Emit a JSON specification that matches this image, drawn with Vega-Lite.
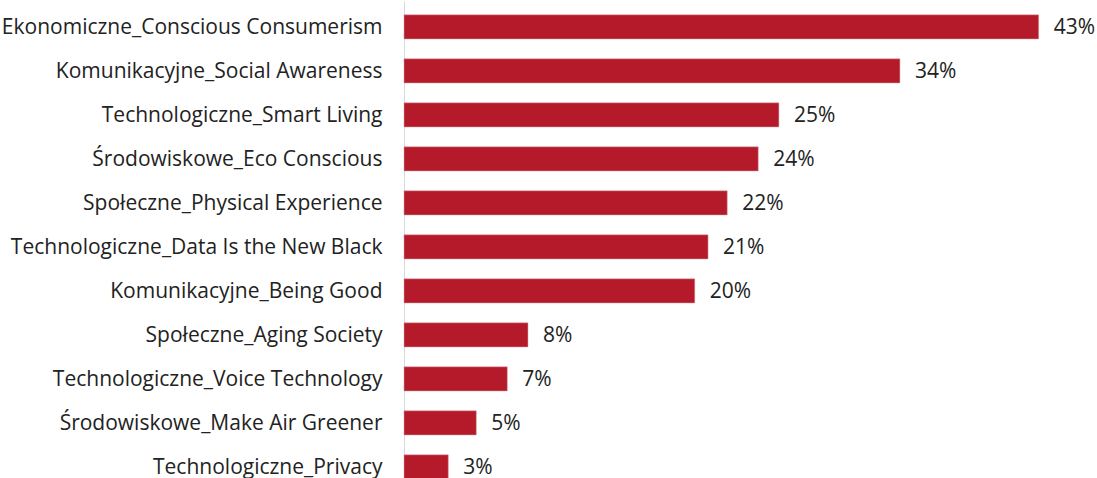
{
  "$schema": "https://vega.github.io/schema/vega-lite/v6.json",
  "width": 693,
  "height": 478,
  "autosize": {"type": "none"},
  "padding": {"left": 404, "top": 1, "right": 0, "bottom": 0},
  "background": "white",
  "config": {"view": {"stroke": null}},
  "data": {
    "values": [
      {"category": "Ekonomiczne_Conscious Consumerism", "value": 0.43},
      {"category": "Komunikacyjne_Social Awareness", "value": 0.336},
      {"category": "Technologiczne_Smart Living", "value": 0.254},
      {"category": "Środowiskowe_Eco Conscious", "value": 0.240},
      {"category": "Społeczne_Physical Experience", "value": 0.219},
      {"category": "Technologiczne_Data Is the New Black", "value": 0.206},
      {"category": "Komunikacyjne_Being Good", "value": 0.197},
      {"category": "Społeczne_Aging Society", "value": 0.084},
      {"category": "Technologiczne_Voice Technology", "value": 0.070},
      {"category": "Środowiskowe_Make Air Greener", "value": 0.049},
      {"category": "Technologiczne_Privacy", "value": 0.030}
    ]
  },
  "encoding": {
    "y": {
      "field": "category",
      "type": "nominal",
      "sort": null,
      "scale": {"paddingInner": 0.45, "paddingOuter": 0.157, "align": 1},
      "axis": {
        "title": null,
        "ticks": false,
        "labelPadding": 22,
        "labelOffset": 1.5,
        "labelFont": "Open Sans",
        "labelFontSize": 21,
        "labelColor": "#222222",
        "domainColor": "#d9d9d9",
        "domainWidth": 1,
        "grid": false,
        "labelLimit": 420
      }
    },
    "x": {
      "field": "value",
      "type": "quantitative",
      "scale": {"domain": [0, 0.4695], "nice": false, "zero": true},
      "axis": null
    }
  },
  "layer": [
    {"mark": {"type": "bar", "color": "#b51a2a", "stroke": "#d9a0a6", "strokeWidth": 0.5}},
    {
      "mark": {"type": "text", "align": "left", "baseline": "middle", "dx": 15, "dy": 1.5, "font": "Open Sans", "fontSize": 21, "color": "#222222"},
      "encoding": {"text": {"field": "value", "type": "quantitative", "format": ".0%"}}
    }
  ]
}
